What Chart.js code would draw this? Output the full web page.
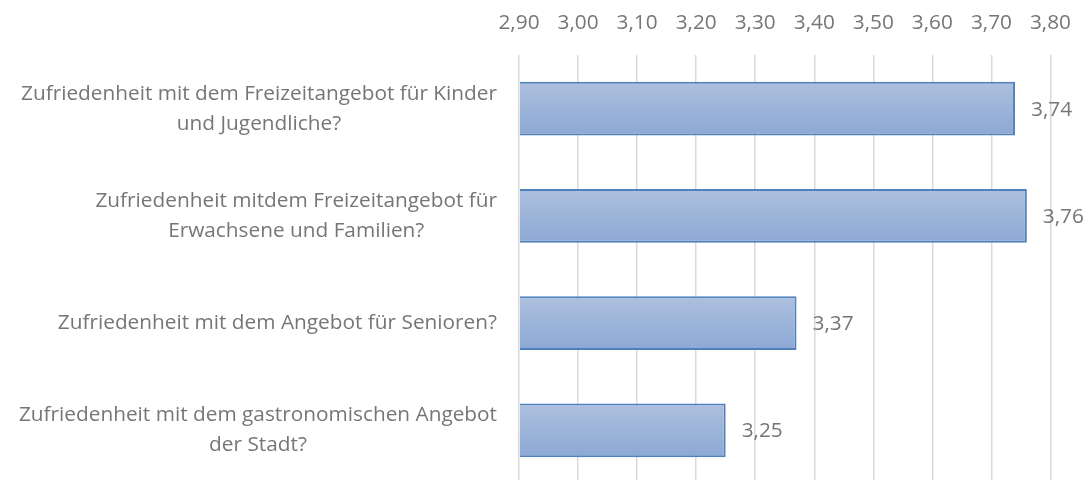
<!DOCTYPE html>
<html lang="de">
<head>
<meta charset="utf-8">
<title>Zufriedenheit</title>
<script src="https://cdn.jsdelivr.net/npm/chart.js@4.4.1/dist/chart.umd.min.js"></script>
<style>
  html, body { margin: 0; padding: 0; background: #fff; overflow: hidden; width: 1090px; height: 480px; }
  #wrap { position: relative; width: 1090px; height: 486px; }
</style>
</head>
<body>
<div id="wrap"><canvas id="chart"></canvas></div>
<script>
const kategorien = [
  ["Zufriedenheit mit dem Freizeitangebot für Kinder", "und Jugendliche?"],
  ["Zufriedenheit mitdem Freizeitangebot für", "Erwachsene und Familien?"],
  ["Zufriedenheit mit dem Angebot für Senioren?"],
  ["Zufriedenheit mit dem gastronomischen Angebot", "der Stadt?"]
];
const werte = [3.74, 3.76, 3.37, 3.25];
const achseMin = 2.9;
const achseMax = 3.8;
const achseSchritt = 0.1;

const TEXTFARBE = "#767676";
const SCHRIFT = "'Open Sans', 'Noto Sans', sans-serif";
const GROESSE = 20.8;

const fmt = v => v.toFixed(2).replace(".", ",");

// Kategorie-Beschriftungen: Zeilen zentriert, Block rechtsbündig
const kategorieLabels = {
  id: "kategorieLabels",
  afterDraw(chart) {
    const { ctx, scales } = chart;
    const rechts = 497;
    const zeilenhoehe = 30;
    ctx.save();
    ctx.font = GROESSE + "px " + SCHRIFT;
    ctx.fillStyle = TEXTFARBE;
    ctx.textAlign = "center";
    ctx.textBaseline = "middle";
    kategorien.forEach((zeilen, i) => {
      const breite = Math.max(...zeilen.map(z => ctx.measureText(z).width));
      const mitteX = rechts - breite / 2;
      const mitteY = scales.y.getPixelForValue(i);
      const startY = mitteY - (zeilen.length - 1) * zeilenhoehe / 2;
      zeilen.forEach((z, k) => ctx.fillText(z, mitteX, startY + k * zeilenhoehe));
    });
    ctx.restore();
  }
};

// Wertbeschriftungen rechts neben den Balken
const wertLabels = {
  id: "wertLabels",
  afterDatasetsDraw(chart) {
    const { ctx } = chart;
    const meta = chart.getDatasetMeta(0);
    ctx.save();
    ctx.font = GROESSE + "px " + SCHRIFT;
    ctx.fillStyle = TEXTFARBE;
    ctx.textAlign = "left";
    ctx.textBaseline = "middle";
    meta.data.forEach((bar, i) => {
      ctx.fillText(fmt(werte[i]), bar.x + 16, bar.y + 1);
    });
    ctx.restore();
  }
};

new Chart(document.getElementById("chart"), {
  type: "bar",
  data: {
    labels: kategorien,
    datasets: [{
      data: werte,
      base: achseMin,
      backgroundColor: c => {
        const { ctx, chartArea, scales } = c.chart;
        if (!chartArea || c.dataIndex === undefined) return "#9db3d9";
        const y = scales.y.getPixelForValue(c.dataIndex);
        const g = ctx.createLinearGradient(0, y - 27, 0, y + 27);
        g.addColorStop(0, "#adc0de");
        g.addColorStop(1, "#8ca8d4");
        return g;
      },
      borderColor: "#4f81bd",
      borderWidth: 2,
      borderSkipped: "start",
      categoryPercentage: 1,
      barPercentage: 0.503
    }]
  },
  options: {
    indexAxis: "y",
    responsive: true,
    maintainAspectRatio: false,
    animation: false,
    layout: { padding: { left: 0, right: 37, top: 0, bottom: 2 } },
    plugins: {
      legend: { display: false },
      tooltip: { enabled: false }
    },
    scales: {
      x: {
        position: "top",
        min: achseMin,
        max: achseMax,
        afterFit: s => { s.height = 55; },
        ticks: {
          stepSize: achseSchritt,
          color: TEXTFARBE,
          font: { family: SCHRIFT, size: GROESSE },
          padding: 19,
          callback: v => fmt(v)
        },
        grid: { color: "#d9d9d9", lineWidth: 1.5, drawTicks: false },
        border: { display: false }
      },
      y: {
        afterFit: s => { s.width = 519; },
        ticks: { display: false },
        grid: { display: false },
        border: { display: false }
      }
    }
  },
  plugins: [kategorieLabels, wertLabels]
});
</script>
</body>
</html>
